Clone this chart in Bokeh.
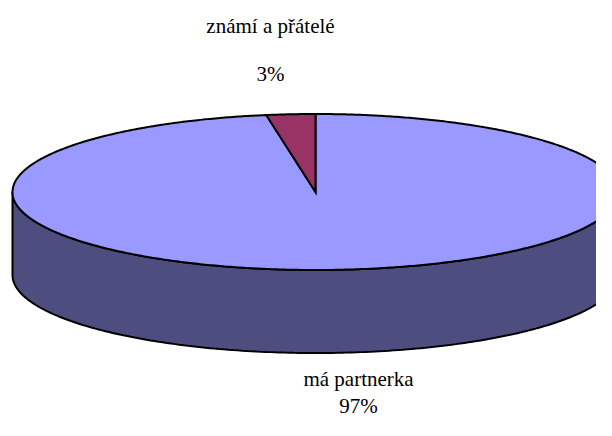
import numpy as np
from bokeh.plotting import figure
from bokeh.models import Range1d
from bokeh.core.properties import value
from bokeh.embed import file_html
from bokeh.resources import INLINE

# ---- data ----
categories = ["má partnerka", "známí a přátelé"]
shares = [97.4, 2.6]
top_colors = ["#9999FF", "#993366"]
side_colors = ["#4D4D80", "#4D1A33"]

W, H = 596, 420
p = figure(width=W, height=H, output_backend="svg", toolbar_location=None,
           x_range=Range1d(0, W), y_range=Range1d(H, 0),
           x_axis_type=None, y_axis_type=None, min_border=0,
           outline_line_color=None)
p.grid.visible = False

# geometry of the 3D pie (layout)
cx, cy, rx, ry, depth = 315, 191.5, 303, 78, 83

def pt(theta_deg, dy=0.0):
    t = np.radians(theta_deg)
    return cx + rx * np.sin(t), cy - ry * np.cos(t) + dy

total = sum(shares)
bounds = np.concatenate([[0], np.cumsum(shares) / total * 360.0])

# side band (front half visible)
for i in range(len(shares)):
    a0, a1 = max(bounds[i], 90), min(bounds[i + 1], 270)
    if a1 <= a0:
        continue
    th = np.linspace(a0, a1, 200)
    xt, yt = pt(th)
    xb, yb = pt(th[::-1], depth)
    p.patch(np.concatenate([xt, xb]), np.concatenate([yt, yb]),
            fill_color=side_colors[i], line_color="black", line_width=2)

# top slices
for i in range(len(shares)):
    th = np.linspace(bounds[i], bounds[i + 1], max(int((bounds[i + 1] - bounds[i]) * 2), 20))
    xa, ya = pt(th)
    p.patch(np.concatenate([[cx], xa, [cx]]), np.concatenate([[cy], ya, [cy]]),
            fill_color=top_colors[i], line_color="black", line_width=2, line_join="miter")

# labels: category name and rounded percentage
label_pos = [(358, 378, 405), (270, 25, 73)]
for i, cat in enumerate(categories):
    lx, ly1, ly2 = label_pos[i]
    p.text(x=[lx, lx], y=[ly1, ly2], text=[cat, f"{round(shares[i])}%"],
           text_font=value("Liberation Serif"), text_font_size="21px",
           text_align="center", text_baseline="middle", text_color="black")

open("out.html", "w").write(file_html(p, INLINE))
